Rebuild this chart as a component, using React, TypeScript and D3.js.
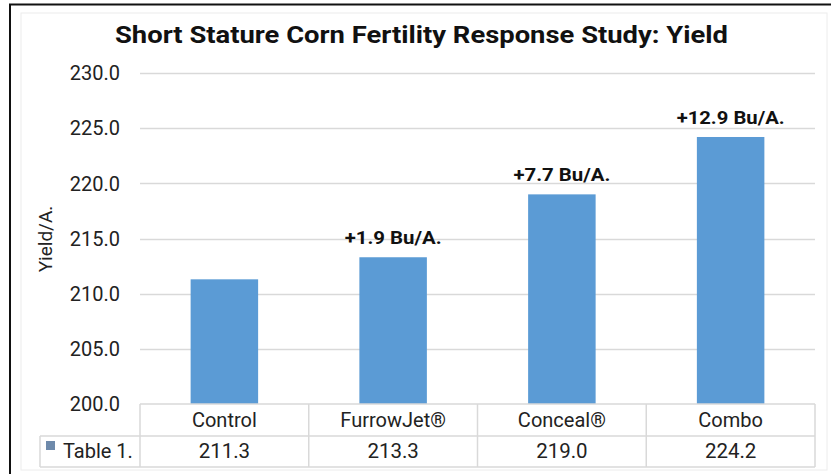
import React, { useEffect, useRef } from 'react';
import * as d3 from 'd3';

const categories = ['Control', 'FurrowJet®', 'Conceal®', 'Combo'];
const yieldValues = [211.3, 213.3, 219.0, 224.2];
const valueLabels = ['211.3', '213.3', '219.0', '224.2'];
const gainLabels = ['', '+1.9 Bu/A.', '+7.7 Bu/A.', '+12.9 Bu/A.'];
const gainWidths = [0, 97, 97, 108];
const yTicks = [200, 205, 210, 215, 220, 225, 230];
const seriesName = 'Table 1.';

const W = 831;
const H = 474;

const App: React.FC = () => {
  const svgRef = useRef<SVGSVGElement>(null);

  useEffect(() => {
    if (!svgRef.current) return;
    const svg = d3.select(svgRef.current);
    svg.selectAll('*').remove();

    const font = 'Roboto, "Open Sans", sans-serif';
    const left = 140;
    const right = 815;
    const top = 73;
    const bottom = 404;
    const row1 = 436;
    const row2 = 467;
    const legendLeft = 40;
    const gridColor = '#d9d9d9';

    const x = d3.scaleBand<string>().domain(categories).range([left, right]).paddingInner(0.6).paddingOuter(0.3);
    const xCell = d3.scaleBand<string>().domain(categories).range([left, right]);
    const y = d3.scaleLinear().domain([200, 230]).range([bottom, top]);

    // background + frames
    svg.append('rect').attr('width', W).attr('height', H).attr('fill', '#fff');
    svg.append('rect')
      .attr('x', 21).attr('y', 13).attr('width', 806).attr('height', 457)
      .attr('fill', 'none').attr('stroke', '#ececec').attr('stroke-width', 1);
    svg.append('path')
      .attr('d', `M10,${H} V4.5 H${W}`)
      .attr('fill', 'none').attr('stroke', '#111').attr('stroke-width', 2);

    // title (slightly stretched, as in the original export)
    svg.append('text')
      .attr('x', 115).attr('y', 43)
      .attr('textLength', 613).attr('lengthAdjust', 'spacingAndGlyphs')
      .style('font-family', font).style('font-weight', 'bold').style('font-size', '23.5px')
      .attr('fill', '#111')
      .text('Short Stature Corn Fertility Response Study: Yield');

    // gridlines
    svg.append('g').selectAll('line')
      .data(yTicks.filter(t => t > 200))
      .join('line')
      .attr('x1', left).attr('x2', right)
      .attr('y1', d => Math.round(y(d)) + 0.5).attr('y2', d => Math.round(y(d)) + 0.5)
      .attr('stroke', gridColor).attr('stroke-width', 1.5);

    // tick labels
    svg.append('g').selectAll('text')
      .data(yTicks)
      .join('text')
      .attr('x', 120).attr('y', d => y(d))
      .attr('dy', '0.36em')
      .attr('text-anchor', 'end')
      .style('font-family', font).style('font-size', '20px')
      .attr('fill', '#222')
      .text(d => d.toFixed(1));

    // y axis title
    svg.append('text')
      .attr('transform', 'translate(52,239) rotate(-90)')
      .attr('text-anchor', 'middle')
      .style('font-family', font).style('font-size', '19px')
      .attr('fill', '#222')
      .text('Yield/A.');

    // bars
    svg.append('g').selectAll('rect')
      .data(yieldValues)
      .join('rect')
      .attr('x', (_, i) => x(categories[i])!)
      .attr('width', x.bandwidth())
      .attr('y', d => y(d))
      .attr('height', d => y(200) - y(d))
      .attr('fill', '#5b9bd5');

    // gain labels
    svg.append('g').selectAll('text')
      .data(gainLabels.map((g, i) => ({ g, i })).filter(d => d.g))
      .join('text')
      .attr('x', d => x(categories[d.i])! + x.bandwidth() / 2 - gainWidths[d.i] / 2)
      .attr('y', d => y(yieldValues[d.i]) - 13)
      .attr('textLength', d => gainWidths[d.i]).attr('lengthAdjust', 'spacingAndGlyphs')
      .style('font-family', font).style('font-weight', 'bold').style('font-size', '17.5px')
      .attr('fill', '#111')
      .text(d => d.g);

    // data table lines
    const t = svg.append('g').attr('stroke', gridColor).attr('stroke-width', 1.5).attr('fill', 'none');
    t.append('line').attr('x1', left).attr('x2', right).attr('y1', bottom).attr('y2', bottom);
    t.append('line').attr('x1', legendLeft).attr('x2', right).attr('y1', row1).attr('y2', row1);
    t.append('line').attr('x1', legendLeft).attr('x2', right).attr('y1', row2).attr('y2', row2);
    t.append('line').attr('x1', legendLeft).attr('x2', legendLeft).attr('y1', row1).attr('y2', row2);
    t.selectAll('line.v')
      .data([...categories.map(c => xCell(c)!), right])
      .join('line')
      .attr('class', 'v')
      .attr('x1', d => d).attr('x2', d => d)
      .attr('y1', bottom).attr('y2', row2);

    // category row
    svg.append('g').selectAll('text')
      .data(categories)
      .join('text')
      .attr('x', d => xCell(d)! + xCell.bandwidth() / 2)
      .attr('y', 427)
      .attr('text-anchor', 'middle')
      .style('font-family', font).style('font-size', '20px')
      .attr('fill', '#222')
      .text(d => d);

    // value row
    svg.append('g').selectAll('text')
      .data(valueLabels)
      .join('text')
      .attr('x', (_, i) => xCell(categories[i])! + xCell.bandwidth() / 2)
      .attr('y', 458)
      .attr('text-anchor', 'middle')
      .style('font-family', font).style('font-size', '20.5px')
      .attr('fill', '#222')
      .text(d => d);

    // legend key
    svg.append('rect')
      .attr('x', 46).attr('y', 441).attr('width', 9).attr('height', 9)
      .attr('fill', '#6e8aab');
    svg.append('text')
      .attr('x', 63).attr('y', 458)
      .style('font-family', font).style('font-size', '20px')
      .attr('fill', '#222')
      .text(seriesName);
  }, []);

  return (
    <svg
      ref={svgRef}
      width={W}
      height={H}
      style={{ position: 'absolute', left: 0, top: 0, display: 'block' }}
    />
  );
};

export default App;
